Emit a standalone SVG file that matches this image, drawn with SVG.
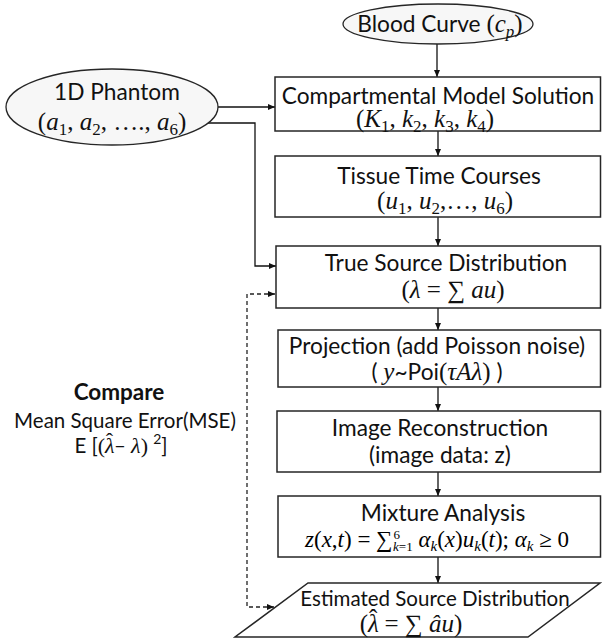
<svg xmlns="http://www.w3.org/2000/svg" width="602" height="639" viewBox="0 0 602 639">
<style>
  .box { fill: #ffffff; stroke: #262626; stroke-width: 1.5; }
  .ell { fill: #f7f7f7; stroke: #262626; stroke-width: 1.3; }
  .t { font-family: Lato, "Open Sans", sans-serif; font-size: 22.7px; fill: #111; }
  .tb { font-family: Lato, "Open Sans", sans-serif; font-size: 22.5px; font-weight: bold; fill: #111; }
  .m { font-family: "Liberation Serif", "DejaVu Serif", serif; font-style: italic; font-size: 25px; }
  .mu { font-family: "Liberation Serif", "DejaVu Serif", serif; font-style: normal; font-size: 25px; }
  .s { font-size: 17px; }
  .c { stroke: #111; stroke-width: 1.3; fill: none; }
  .d { stroke: #222; stroke-width: 1.3; fill: none; stroke-dasharray: 4 3; }
</style>
<defs>
  <marker id="ah" markerWidth="8" markerHeight="8" refX="7" refY="4" orient="auto-start-reverse" markerUnits="userSpaceOnUse">
    <path d="M0,1 L7,4 L0,7 z" fill="#111"/>
  </marker>
</defs>

<g id="connectors">
  <path class="c" d="M437,44 V77" marker-end="url(#ah)"/>
  <path class="c" d="M218,107 H275" marker-end="url(#ah)"/>
  <path class="c" d="M207,123 H255 V266 H276" marker-end="url(#ah)"/>
  <path class="c" d="M438,131 V156" marker-end="url(#ah)"/>
  <path class="c" d="M438,217 V246" marker-end="url(#ah)"/>
  <path class="c" d="M438,308 V330" marker-end="url(#ah)"/>
  <path class="c" d="M438,387 V411" marker-end="url(#ah)"/>
  <path class="c" d="M438,472 V496" marker-end="url(#ah)"/>
  <path class="c" d="M438,557 V583" marker-end="url(#ah)"/>
  <path class="d" d="M275,294 H247 V607 H274" marker-start="url(#ah)" marker-end="url(#ah)"/>
</g>

<g id="blood-curve">
  <ellipse class="ell" cx="438" cy="24" rx="95" ry="20"/>
  <text class="t" x="440" y="32" text-anchor="middle">Blood Curve <tspan class="mu">(</tspan><tspan class="m">c</tspan><tspan class="m s" dy="5">p</tspan><tspan class="mu" dy="-5">)</tspan></text>
</g>

<g id="phantom">
  <ellipse class="ell" cx="112" cy="107" rx="106" ry="38"/>
  <text class="t" x="117" y="100" text-anchor="middle">1D Phantom</text>
  <text class="t" x="112" y="130" text-anchor="middle"><tspan class="mu">(</tspan><tspan class="m">a</tspan><tspan class="mu s" dy="5">1</tspan><tspan class="mu" dy="-5">, </tspan><tspan class="m">a</tspan><tspan class="mu s" dy="5">2</tspan><tspan class="mu" dy="-5">, …., </tspan><tspan class="m">a</tspan><tspan class="mu s" dy="5">6</tspan><tspan class="mu" dy="-5">)</tspan></text>
</g>

<g id="compartmental">
  <rect class="box" x="275" y="77" width="325.5" height="54"/>
  <text class="t" x="438" y="104" text-anchor="middle">Compartmental Model Solution</text>
  <text class="t" x="425" y="127" text-anchor="middle"><tspan class="mu">(</tspan><tspan class="m">K</tspan><tspan class="mu s" dy="5">1</tspan><tspan class="mu" dy="-5">, </tspan><tspan class="m">k</tspan><tspan class="mu s" dy="5">2</tspan><tspan class="mu" dy="-5">, </tspan><tspan class="m">k</tspan><tspan class="mu s" dy="5">3</tspan><tspan class="mu" dy="-5">, </tspan><tspan class="m">k</tspan><tspan class="mu s" dy="5">4</tspan><tspan class="mu" dy="-5">)</tspan></text>
</g>

<g id="tissue">
  <rect class="box" x="275" y="156" width="325.5" height="61"/>
  <text class="t" x="439" y="184" text-anchor="middle">Tissue Time Courses</text>
  <text class="t" x="445" y="209" text-anchor="middle"><tspan class="mu">(</tspan><tspan class="m">u</tspan><tspan class="mu s" dy="5">1</tspan><tspan class="mu" dy="-5">, </tspan><tspan class="m">u</tspan><tspan class="mu s" dy="5">2</tspan><tspan class="mu" dy="-5">,…, </tspan><tspan class="m">u</tspan><tspan class="mu s" dy="5">6</tspan><tspan class="mu" dy="-5">)</tspan></text>
</g>

<g id="true-source">
  <rect class="box" x="276" y="246" width="324.5" height="62"/>
  <text class="t" x="446" y="271" text-anchor="middle">True Source Distribution</text>
  <text class="t" x="453" y="298" text-anchor="middle"><tspan class="mu">(</tspan><tspan class="m">λ</tspan><tspan class="mu"> = ∑ </tspan><tspan class="m">au</tspan><tspan class="mu">)</tspan></text>
</g>

<g id="projection">
  <rect class="box" x="278" y="330" width="322.5" height="57"/>
  <text class="t" x="437" y="354" text-anchor="middle">Projection (add Poisson noise)</text>
  <text class="t" x="437" y="380" text-anchor="middle">(  <tspan class="m">y</tspan>~Poi<tspan class="mu">(</tspan><tspan class="m">τAλ</tspan><tspan class="mu">)</tspan> )</text>
</g>

<g id="reconstruction">
  <rect class="box" x="277" y="411" width="323.5" height="61"/>
  <text class="t" x="440" y="436" text-anchor="middle">Image Reconstruction</text>
  <text class="t" x="440" y="463" text-anchor="middle">(image data: z)</text>
</g>

<g id="mixture">
  <rect class="box" x="278" y="496" width="322.5" height="61"/>
  <text class="t" x="443" y="521" text-anchor="middle">Mixture Analysis</text>
  <text style="font-family:'Liberation Serif','DejaVu Serif',serif;font-style:italic;font-size:23px" x="305" y="547">z<tspan font-style="normal">(</tspan>x<tspan font-style="normal">,</tspan>t<tspan font-style="normal">) =  ∑</tspan><tspan font-style="normal" style="font-size:13px" dy="-8" dx="1">6</tspan><tspan style="font-size:13px" dx="-7" dy="12">k</tspan><tspan font-style="normal" style="font-size:13px">=1</tspan><tspan dy="-4"> α</tspan><tspan style="font-size:15px" dy="4">k</tspan><tspan font-style="normal" dy="-4">(</tspan>x<tspan font-style="normal">)</tspan>u<tspan style="font-size:15px" dy="4">k</tspan><tspan font-style="normal" dy="-4">(</tspan>t<tspan font-style="normal">); </tspan>α<tspan style="font-size:15px" dy="4">k</tspan><tspan font-style="normal" dy="-4"> ≥ 0</tspan></text>
</g>

<g id="estimated">
  <polygon class="box" points="308,583 600,583 528,637 235,637"/>
  <text class="t" style="font-size:20.5px" x="435" y="606" text-anchor="middle">Estimated Source Distribution</text>
  <text class="t" x="411" y="632" text-anchor="middle"><tspan class="mu">(</tspan><tspan class="m">λ</tspan><tspan class="mu" dx="-10" dy="-5">ˆ</tspan><tspan class="mu" dx="1" dy="5"> = ∑ </tspan><tspan class="m">âu</tspan><tspan class="mu">)</tspan></text>
</g>

<g id="compare">
  <text class="tb" x="119" y="400" text-anchor="middle">Compare</text>
  <text class="t" style="font-size:20.5px" x="125" y="428" text-anchor="middle">Mean Square Error(MSE)</text>
  <text class="t" style="font-size:20.5px" x="121" y="453" text-anchor="middle">E [<tspan class="mu" style="font-size:22px">(</tspan><tspan class="m" style="font-size:22px">λ</tspan><tspan class="mu" style="font-size:22px" dx="-9" dy="-5">ˆ</tspan><tspan dx="1" dy="5">– </tspan><tspan class="m" style="font-size:22px">λ</tspan><tspan class="mu" style="font-size:22px">)</tspan> <tspan style="font-size:14px" dy="-9">2</tspan><tspan dy="9">]</tspan></text>
</g>
</svg>
